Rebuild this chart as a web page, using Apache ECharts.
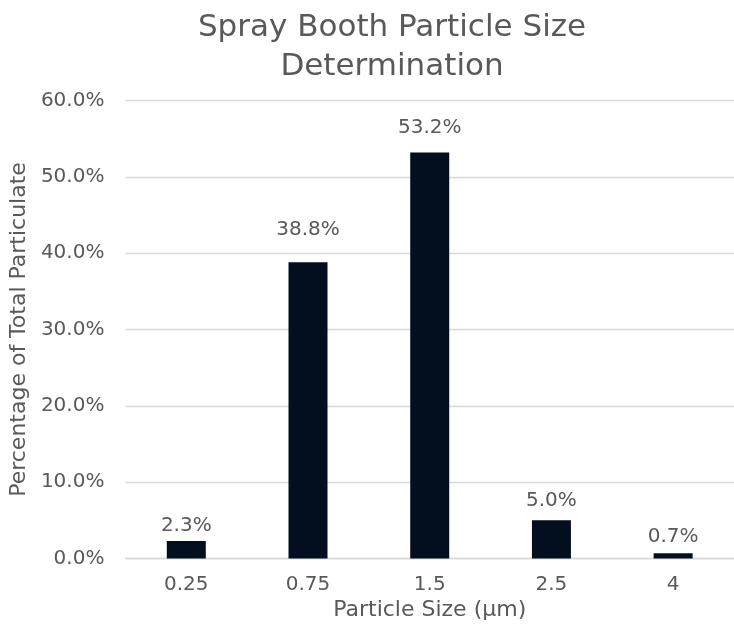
<!DOCTYPE html>
<html>
<head>
<meta charset="utf-8">
<script src="https://cdn.jsdelivr.net/npm/echarts@6/dist/echarts.min.js"></script>
<style>
  html, body { margin: 0; padding: 0; background: #ffffff; }
  #chart { width: 734px; height: 632px; }
</style>
</head>
<body>
<div id="chart"></div>
<script>
// Particle size bins (µm) and share of total particulate (%)
const sizes = ['0.25', '0.75', '1.5', '2.5', '4'];
const shares = [2.3, 38.8, 53.2, 5.0, 0.7];
const yTicks = { min: 0, max: 60, interval: 10 };

const FONT = '"DejaVu Sans", Verdana, sans-serif';
const GREY = '#595959';

// Gap between each bar top and its value label (the labels were placed by hand)
const labelGap = [5, 23, 15, 10, 6];

const chart = echarts.init(document.getElementById('chart'), null, { renderer: 'canvas' });
chart.setOption({
  animation: false,
  backgroundColor: '#ffffff',
  title: {
    text: 'Spray Booth Particle Size\nDetermination',
    left: 387,
    textAlign: 'center',
    top: 3,
    textStyle: {
      fontFamily: FONT,
      fontSize: 31,
      fontWeight: 'normal',
      color: GREY,
      lineHeight: 39
    }
  },
  grid: { left: 121, top: 100.5, width: 624, height: 458 },
  xAxis: {
    type: 'category',
    data: sizes,
    name: 'Particle Size (µm)',
    nameLocation: 'middle',
    nameGap: 37,
    nameTextStyle: { fontFamily: FONT, fontSize: 22, color: GREY },
    axisLine: { lineStyle: { color: '#d9d9d9', width: 1.3 } },
    axisTick: { show: false },
    axisLabel: { fontFamily: FONT, fontSize: 20, color: GREY, margin: 16 }
  },
  yAxis: {
    type: 'value',
    min: yTicks.min,
    max: yTicks.max,
    interval: yTicks.interval,
    name: 'Percentage of Total Particulate',
    nameLocation: 'middle',
    nameGap: 86,
    nameTextStyle: { fontFamily: FONT, fontSize: 22, color: GREY },
    axisLine: { show: false },
    axisTick: { show: false },
    axisLabel: {
      fontFamily: FONT, fontSize: 20, color: GREY, margin: 21,
      formatter: v => v.toFixed(1) + '%'
    },
    splitLine: { lineStyle: { color: '#d9d9d9', width: 1.3 } }
  },
  series: [{
    type: 'bar',
    data: shares.map((v, i) => ({ value: v, label: { distance: labelGap[i] } })),
    barWidth: 39,
    itemStyle: { color: '#030f1f' },
    label: {
      show: true,
      position: 'top',
      fontFamily: FONT,
      fontSize: 20,
      color: GREY,
      formatter: p => p.value.toFixed(1) + '%'
    }
  }]
});
</script>
</body>
</html>
